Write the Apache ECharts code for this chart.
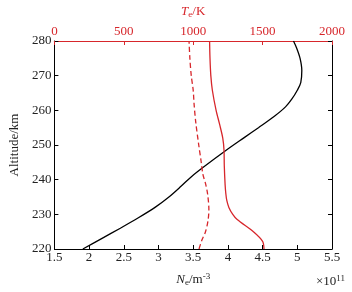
<!DOCTYPE html>
<html>
<head>
<meta charset="utf-8">
<script src="https://cdn.jsdelivr.net/npm/echarts@6/dist/echarts.min.js"></script>
<style>
  html, body { margin: 0; padding: 0; background: #fff; }
  #chart { width: 352px; height: 292px; }
</style>
</head>
<body>
<div id="chart"></div>
<script>
// electron density profile (bottom axis, x10^11 m^-3)
const neAlt = [220, 223, 226, 229, 232, 235, 238, 240.8, 243.5, 248.4, 252.2, 255, 258.3, 261, 263.2, 265.8, 268, 271.5, 275, 278, 280];
const neVal = [1.91, 2.18, 2.45, 2.71, 2.95, 3.15, 3.32, 3.47, 3.64, 3.97, 4.24, 4.44, 4.67, 4.83, 4.92, 5.0, 5.05, 5.065, 5.04, 4.99, 4.945];
// electron temperature (top axis, K) - solid red
const teAlt = [220, 222.2, 224.9, 228.5, 230, 232, 234, 236, 238.5, 244, 248.5, 252, 256, 260, 265.8, 270, 275, 280];
const teVal = [1510, 1500, 1436, 1317, 1285, 1257, 1242, 1235, 1230, 1224, 1222, 1213, 1190, 1165, 1138, 1127, 1121, 1118];
// ion temperature (top axis, K) - dashed red
const tiAlt = [220, 222.5, 224.9, 228, 231.3, 235.8, 239, 241.5, 245, 250, 256.7, 262, 265.8, 270, 275, 280];
const tiVal = [1042, 1062, 1088, 1106, 1113, 1104, 1088, 1070, 1058, 1040, 1018, 1006, 1000, 986, 976, 970];

const altTicks = [220, 280, 10];
const neTicks = [1.5, 5.5, 0.5];
const tTicks = [0, 2000, 500];

const red = '#d7262b';
const font = 'Liberation Serif';

const pairs = (xs, ys) => xs.map((x, i) => [x, ys[i]]);

const chart = echarts.init(document.getElementById('chart'));
chart.setOption({
  animation: false,
  grid: { left: 53, right: 20, top: 38, bottom: 34 },
  textStyle: { fontFamily: font },
  xAxis: [
    {
      type: 'value', position: 'bottom',
      min: neTicks[0], max: neTicks[1], interval: neTicks[2],
      axisLine: { lineStyle: { color: '#000', width: 1 } },
      axisTick: { inside: true, length: 4, lineStyle: { color: '#000' } },
      axisLabel: { color: '#222', fontSize: 13, fontFamily: font, margin: 2 },
      splitLine: { show: false },
      name: '{i|N}{s|e}{n|/m}{sup|-3}',
      nameLocation: 'middle', nameGap: 23,
      nameTextStyle: {
        rich: {
          i: { fontStyle: 'italic', fontSize: 13, fontFamily: font, color: '#222' },
          s: { fontSize: 9, fontFamily: font, color: '#222', verticalAlign: 'bottom', padding: [6, 0, 0, 0] },
          n: { fontSize: 13, fontFamily: font, color: '#222' },
          sup: { fontSize: 9, fontFamily: font, color: '#222', verticalAlign: 'top', padding: [0, 0, 6, 0] }
        }
      }
    },
    {
      type: 'value', position: 'top',
      min: tTicks[0], max: tTicks[1], interval: tTicks[2],
      axisLine: { lineStyle: { color: red, width: 1.2 } },
      axisTick: { inside: true, length: 4, lineStyle: { color: red } },
      axisLabel: { color: red, fontSize: 13, fontFamily: font, margin: 3, formatter: v => String(v) },
      splitLine: { show: false },
      name: '{i|T}{s|e}{n|/K}',
      nameLocation: 'middle', nameGap: 22,
      nameTextStyle: {
        rich: {
          i: { fontStyle: 'italic', fontSize: 13, fontFamily: font, color: red },
          s: { fontSize: 9, fontFamily: font, color: red, verticalAlign: 'bottom', padding: [6, 0, 0, 0] },
          n: { fontSize: 13, fontFamily: font, color: red }
        }
      }
    }
  ],
  yAxis: [
    {
      type: 'value', position: 'left',
      min: altTicks[0], max: altTicks[1], interval: altTicks[2],
      axisLine: { show: true, lineStyle: { color: '#000', width: 1 } },
      axisTick: { show: true, inside: true, length: 4, lineStyle: { color: '#000' } },
      axisLabel: { color: '#222', fontSize: 13, fontFamily: font, margin: 3 },
      splitLine: { show: false },
      name: 'Altitude/km',
      nameLocation: 'middle', nameGap: 30,
      nameTextStyle: { color: '#222', fontSize: 13, fontFamily: font }
    },
    {
      type: 'value', position: 'right',
      min: altTicks[0], max: altTicks[1], interval: altTicks[2],
      axisLine: { show: true, lineStyle: { color: '#000', width: 1 } },
      axisTick: { show: true, inside: true, length: 4, lineStyle: { color: '#000' } },
      axisLabel: { show: false },
      splitLine: { show: false }
    }
  ],
  graphic: [
    {
      type: 'text', right: 7, top: 274,
      style: {
        text: '×10{sup|11}',
        font: '13px ' + font, fill: '#222',
        rich: { sup: { fontSize: 9, fontFamily: font, fill: '#222', verticalAlign: 'top', padding: [0, 0, 6, 0] } }
      }
    }
  ],
  series: [
    {
      name: 'Ne', type: 'line', xAxisIndex: 0, yAxisIndex: 0,
      data: pairs(neVal, neAlt),
      smooth: 0.3, showSymbol: false,
      lineStyle: { color: '#000', width: 1.3 }
    },
    {
      name: 'Te', type: 'line', xAxisIndex: 1, yAxisIndex: 0,
      data: pairs(teVal, teAlt),
      smooth: 0.3, showSymbol: false,
      lineStyle: { color: red, width: 1.3 }
    },
    {
      name: 'Ti', type: 'line', xAxisIndex: 1, yAxisIndex: 0,
      data: pairs(tiVal, tiAlt),
      smooth: 0.3, showSymbol: false,
      lineStyle: { color: red, width: 1.3, type: [5, 3] }
    }
  ]
});
</script>
</body>
</html>
